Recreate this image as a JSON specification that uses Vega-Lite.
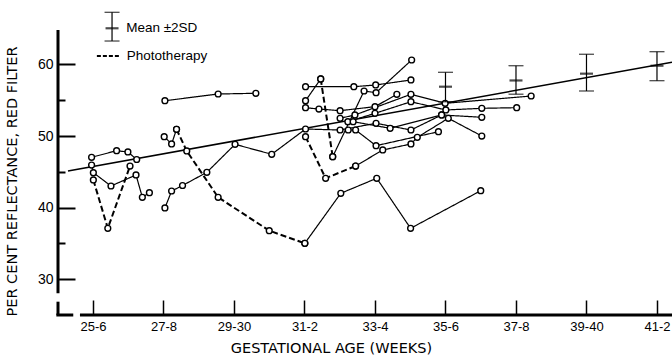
{
  "$schema": "https://vega.github.io/schema/vega-lite/v6.json",
  "width": 614,
  "height": 315,
  "autosize": {"type": "none"},
  "padding": {"left": 58, "top": 0, "right": 0, "bottom": 43},
  "background": "white",
  "config": {"view": {"stroke": null}},
  "datasets": {
    "series": [
      {"s": "S1", "photo": "no", "w": 25.46, "v": 45.95},
      {"s": "S1", "photo": "no", "w": 25.51, "v": 44.88},
      {"s": "S1", "photo": "no", "w": 26.01, "v": 43.02},
      {"s": "S1", "photo": "no", "w": 26.72, "v": 44.56},
      {"s": "S1", "photo": "no", "w": 26.90, "v": 41.44},
      {"s": "S1", "photo": "no", "w": 27.10, "v": 42.08},
      {"s": "S2", "photo": "no", "w": 25.46, "v": 47.03},
      {"s": "S2", "photo": "no", "w": 26.17, "v": 47.95},
      {"s": "S2", "photo": "no", "w": 26.49, "v": 47.77},
      {"s": "S2", "photo": "no", "w": 26.74, "v": 46.72},
      {"s": "P1", "photo": "yes", "w": 25.51, "v": 43.86},
      {"s": "P1", "photo": "yes", "w": 25.92, "v": 37.11},
      {"s": "P1", "photo": "yes", "w": 26.55, "v": 45.81},
      {"s": "C", "photo": "no", "w": 27.54, "v": 54.93},
      {"s": "C", "photo": "no", "w": 29.05, "v": 55.87},
      {"s": "C", "photo": "no", "w": 30.12, "v": 55.97},
      {"s": "T2a", "photo": "no", "w": 27.52, "v": 49.91},
      {"s": "T2a", "photo": "no", "w": 27.73, "v": 48.89},
      {"s": "T2a", "photo": "no", "w": 27.87, "v": 50.94},
      {"s": "T2b", "photo": "yes", "w": 27.87, "v": 50.94},
      {"s": "T2b", "photo": "yes", "w": 28.16, "v": 47.91},
      {"s": "T2b", "photo": "yes", "w": 29.05, "v": 41.44},
      {"s": "T2b", "photo": "yes", "w": 30.50, "v": 36.78},
      {"s": "T2b", "photo": "yes", "w": 31.51, "v": 35.02},
      {"s": "T2c", "photo": "no", "w": 31.51, "v": 35.02},
      {"s": "T2c", "photo": "no", "w": 32.53, "v": 42.0},
      {"s": "T2c", "photo": "no", "w": 33.55, "v": 44.10},
      {"s": "T2c", "photo": "no", "w": 34.51, "v": 37.11},
      {"s": "T2c", "photo": "no", "w": 36.50, "v": 42.36},
      {"s": "B", "photo": "no", "w": 27.54, "v": 39.95},
      {"s": "B", "photo": "no", "w": 27.73, "v": 42.32},
      {"s": "B", "photo": "no", "w": 28.04, "v": 43.09},
      {"s": "B", "photo": "no", "w": 28.73, "v": 44.93},
      {"s": "B", "photo": "no", "w": 29.53, "v": 48.84},
      {"s": "B", "photo": "no", "w": 30.57, "v": 47.45},
      {"s": "B", "photo": "no", "w": 31.53, "v": 50.98},
      {"s": "B", "photo": "no", "w": 32.51, "v": 50.84},
      {"s": "B", "photo": "no", "w": 33.53, "v": 51.78},
      {"s": "B", "photo": "no", "w": 34.52, "v": 50.84},
      {"s": "B", "photo": "no", "w": 35.39, "v": 52.94},
      {"s": "D1", "photo": "yes", "w": 31.53, "v": 49.91},
      {"s": "D1", "photo": "yes", "w": 32.10, "v": 44.10},
      {"s": "D1", "photo": "yes", "w": 32.95, "v": 45.81},
      {"s": "D2", "photo": "no", "w": 32.95, "v": 45.81},
      {"s": "D2", "photo": "no", "w": 33.72, "v": 48.05},
      {"s": "D2", "photo": "no", "w": 34.52, "v": 48.89},
      {"s": "D2", "photo": "no", "w": 34.70, "v": 49.82},
      {"s": "D2", "photo": "no", "w": 35.58, "v": 52.48},
      {"s": "D2", "photo": "no", "w": 36.53, "v": 50.0},
      {"s": "F1", "photo": "no", "w": 31.53, "v": 54.93},
      {"s": "F1", "photo": "no", "w": 31.96, "v": 57.97},
      {"s": "F2", "photo": "yes", "w": 31.96, "v": 57.97},
      {"s": "F2", "photo": "yes", "w": 32.30, "v": 47.11},
      {"s": "F3", "photo": "no", "w": 32.30, "v": 47.11},
      {"s": "F3", "photo": "no", "w": 33.19, "v": 56.29},
      {"s": "F3", "photo": "no", "w": 33.53, "v": 56.05},
      {"s": "F3", "photo": "no", "w": 34.54, "v": 60.62},
      {"s": "G", "photo": "no", "w": 31.53, "v": 56.89},
      {"s": "G", "photo": "no", "w": 32.90, "v": 56.89},
      {"s": "G", "photo": "no", "w": 33.52, "v": 57.13},
      {"s": "G", "photo": "no", "w": 34.52, "v": 57.83},
      {"s": "H", "photo": "no", "w": 31.53, "v": 53.96},
      {"s": "H", "photo": "no", "w": 31.91, "v": 53.77},
      {"s": "H", "photo": "no", "w": 32.51, "v": 53.54},
      {"s": "H", "photo": "no", "w": 33.50, "v": 54.10},
      {"s": "H", "photo": "no", "w": 34.12, "v": 55.83},
      {"s": "M", "photo": "no", "w": 32.51, "v": 52.48},
      {"s": "M", "photo": "no", "w": 32.93, "v": 52.94},
      {"s": "M", "photo": "no", "w": 34.52, "v": 55.83},
      {"s": "M", "photo": "no", "w": 35.49, "v": 54.57},
      {"s": "M", "photo": "no", "w": 37.93, "v": 55.59},
      {"s": "N", "photo": "no", "w": 32.73, "v": 52.0},
      {"s": "N", "photo": "no", "w": 33.50, "v": 53.17},
      {"s": "N", "photo": "no", "w": 34.52, "v": 54.79},
      {"s": "N", "photo": "no", "w": 35.51, "v": 53.64},
      {"s": "N", "photo": "no", "w": 36.53, "v": 53.87},
      {"s": "N", "photo": "no", "w": 37.52, "v": 53.96},
      {"s": "O", "photo": "no", "w": 32.88, "v": 52.0},
      {"s": "O", "photo": "no", "w": 33.93, "v": 51.08},
      {"s": "O", "photo": "no", "w": 35.39, "v": 52.94},
      {"s": "O", "photo": "no", "w": 36.53, "v": 52.62},
      {"s": "Q", "photo": "no", "w": 32.74, "v": 50.84},
      {"s": "Q", "photo": "no", "w": 32.95, "v": 50.84},
      {"s": "Q", "photo": "no", "w": 33.53, "v": 48.65},
      {"s": "Q", "photo": "no", "w": 35.30, "v": 50.60}
    ],
    "regression": [
      {"w": 24.79, "v": 45.11},
      {"w": 41.926, "v": 60.3}
    ],
    "sd": [
      {"w": 35.5, "v": 58.90, "kind": "cap"},
      {"w": 35.5, "v": 56.89, "kind": "mean"},
      {"w": 35.5, "v": 54.79, "kind": "cap"},
      {"w": 37.5, "v": 59.82, "kind": "cap"},
      {"w": 37.5, "v": 57.76, "kind": "mean"},
      {"w": 37.5, "v": 55.84, "kind": "cap"},
      {"w": 39.5, "v": 61.42, "kind": "cap"},
      {"w": 39.5, "v": 58.71, "kind": "mean"},
      {"w": 39.5, "v": 56.29, "kind": "cap"},
      {"w": 41.5, "v": 61.78, "kind": "cap"},
      {"w": 41.5, "v": 59.82, "kind": "mean"},
      {"w": 41.5, "v": 57.73, "kind": "cap"},
      {"w": 26.04, "v": 67.28, "kind": "cap"},
      {"w": 26.04, "v": 65.05, "kind": "mean"},
      {"w": 26.04, "v": 63.27, "kind": "cap"}
    ],
    "axislines": [
      {"w": 24.507, "v": 28.03, "w2": 24.507, "v2": 64.81},
      {"w": 24.507, "v": 25.0, "w2": 24.507, "v2": 26.86},
      {"w": 24.46, "v": 25.0, "w2": 24.94, "v2": 25.0},
      {"w": 25.13, "v": 25.0, "w2": 41.926, "v2": 25.0}
    ],
    "legendline": [
      {"w": 25.61, "v": 61.18, "w2": 26.29, "v2": 61.18}
    ],
    "legendtext": [
      {"w": 26.44, "v": 65.05, "label": "Mean ±2SD"},
      {"w": 26.46, "v": 61.18, "label": "Phototherapy"}
    ]
  },
  "encoding": {
    "x": {
      "field": "w",
      "type": "quantitative",
      "scale": {"domain": [24.507, 41.926], "nice": false, "zero": false},
      "axis": {
        "title": "GESTATIONAL AGE (WEEKS)",
        "values": [25.5, 27.5, 29.5, 31.5, 33.5, 35.5, 37.5, 39.5, 41.5],
        "labelExpr": "datum.value == 25.5 ? '25-6' : datum.value == 27.5 ? '27-8' : datum.value == 29.5 ? '29-30' : datum.value == 31.5 ? '31-2' : datum.value == 33.5 ? '33-4' : datum.value == 35.5 ? '35-6' : datum.value == 37.5 ? '37-8' : datum.value == 39.5 ? '39-40' : '41-2'",
        "domain": false,
        "grid": false,
        "tickSize": -15,
        "tickWidth": 1.5,
        "tickColor": "black",
        "labelPadding": 20,
        "labelFont": "Liberation Sans",
        "labelFontSize": 13,
        "labelColor": "black",
        "labelFlush": false,
        "labelOverlap": false,
        "titleFont": "DejaVu Sans",
        "titleFontSize": 14.5,
        "titleFontWeight": "normal",
        "titleColor": "black",
        "titleX": 273,
        "titleY": 33,
        "titleAlign": "center",
        "titleBaseline": "middle"
      }
    },
    "y": {
      "field": "v",
      "type": "quantitative",
      "scale": {"domain": [25, 69], "nice": false, "zero": false},
      "axis": {
        "title": "PER CENT REFLECTANCE, RED FILTER",
        "values": [30, 35, 40, 45, 50, 55, 60],
        "labelExpr": "datum.value % 10 == 0 ? datum.label : ''",
        "domain": false,
        "grid": false,
        "tickSize": {"condition": {"test": "datum.value % 10 == 0", "value": -17}, "value": -7},
        "tickWidth": 2,
        "tickColor": "black",
        "labelPadding": 22,
        "labelFont": "Liberation Sans",
        "labelFontSize": 14,
        "labelColor": "black",
        "titleFont": "DejaVu Sans",
        "titleFontSize": 14.5,
        "titleFontWeight": "normal",
        "titleColor": "black",
        "titleAngle": 270,
        "titleX": -46,
        "titleY": 181,
        "titleAlign": "center",
        "titleBaseline": "middle"
      }
    }
  },
  "layer": [
    {
      "data": {"name": "axislines"},
      "mark": {"type": "rule", "color": "black", "strokeWidth": 3},
      "encoding": {"x2": {"field": "w2"}, "y2": {"field": "v2"}}
    },
    {
      "data": {"name": "regression"},
      "mark": {"type": "line", "color": "black", "strokeWidth": 1.6},
      "encoding": {}
    },
    {
      "data": {"name": "series"},
      "mark": {"type": "line", "color": "black"},
      "encoding": {
        "detail": {"field": "s"},
        "strokeDash": {"field": "photo", "type": "nominal", "scale": {"domain": ["no", "yes"], "range": [[1, 0], [6, 3]]}, "legend": null},
        "strokeWidth": {"field": "photo", "type": "nominal", "scale": {"domain": ["no", "yes"], "range": [1.2, 2]}, "legend": null}
      }
    },
    {
      "data": {"name": "series"},
      "mark": {"type": "point", "shape": "circle", "filled": true, "fill": "white", "stroke": "black", "strokeWidth": 1.4, "size": 34, "opacity": 1},
      "encoding": {}
    },
    {
      "data": {"name": "sd"},
      "mark": {"type": "line", "color": "black", "strokeWidth": 1.2},
      "encoding": {"detail": {"field": "w"}, "order": {"field": "v"}}
    },
    {
      "data": {"name": "sd"},
      "transform": [{"filter": "datum.kind == 'cap'"}],
      "mark": {"type": "tick", "orient": "horizontal", "color": "black", "thickness": 1.3, "size": 15},
      "encoding": {}
    },
    {
      "data": {"name": "sd"},
      "transform": [{"filter": "datum.kind == 'mean'"}],
      "mark": {"type": "tick", "orient": "horizontal", "color": "black", "thickness": 2.2, "size": 13},
      "encoding": {}
    },
    {
      "data": {"name": "legendline"},
      "mark": {"type": "rule", "color": "black", "strokeWidth": 2, "strokeDash": [4, 2]},
      "encoding": {"x2": {"field": "w2"}, "y2": {"field": "v2"}}
    },
    {
      "data": {"name": "legendtext"},
      "mark": {"type": "text", "align": "left", "baseline": "middle", "font": "Liberation Sans", "fontSize": 13.5, "color": "black"},
      "encoding": {"text": {"field": "label"}}
    }
  ]
}
